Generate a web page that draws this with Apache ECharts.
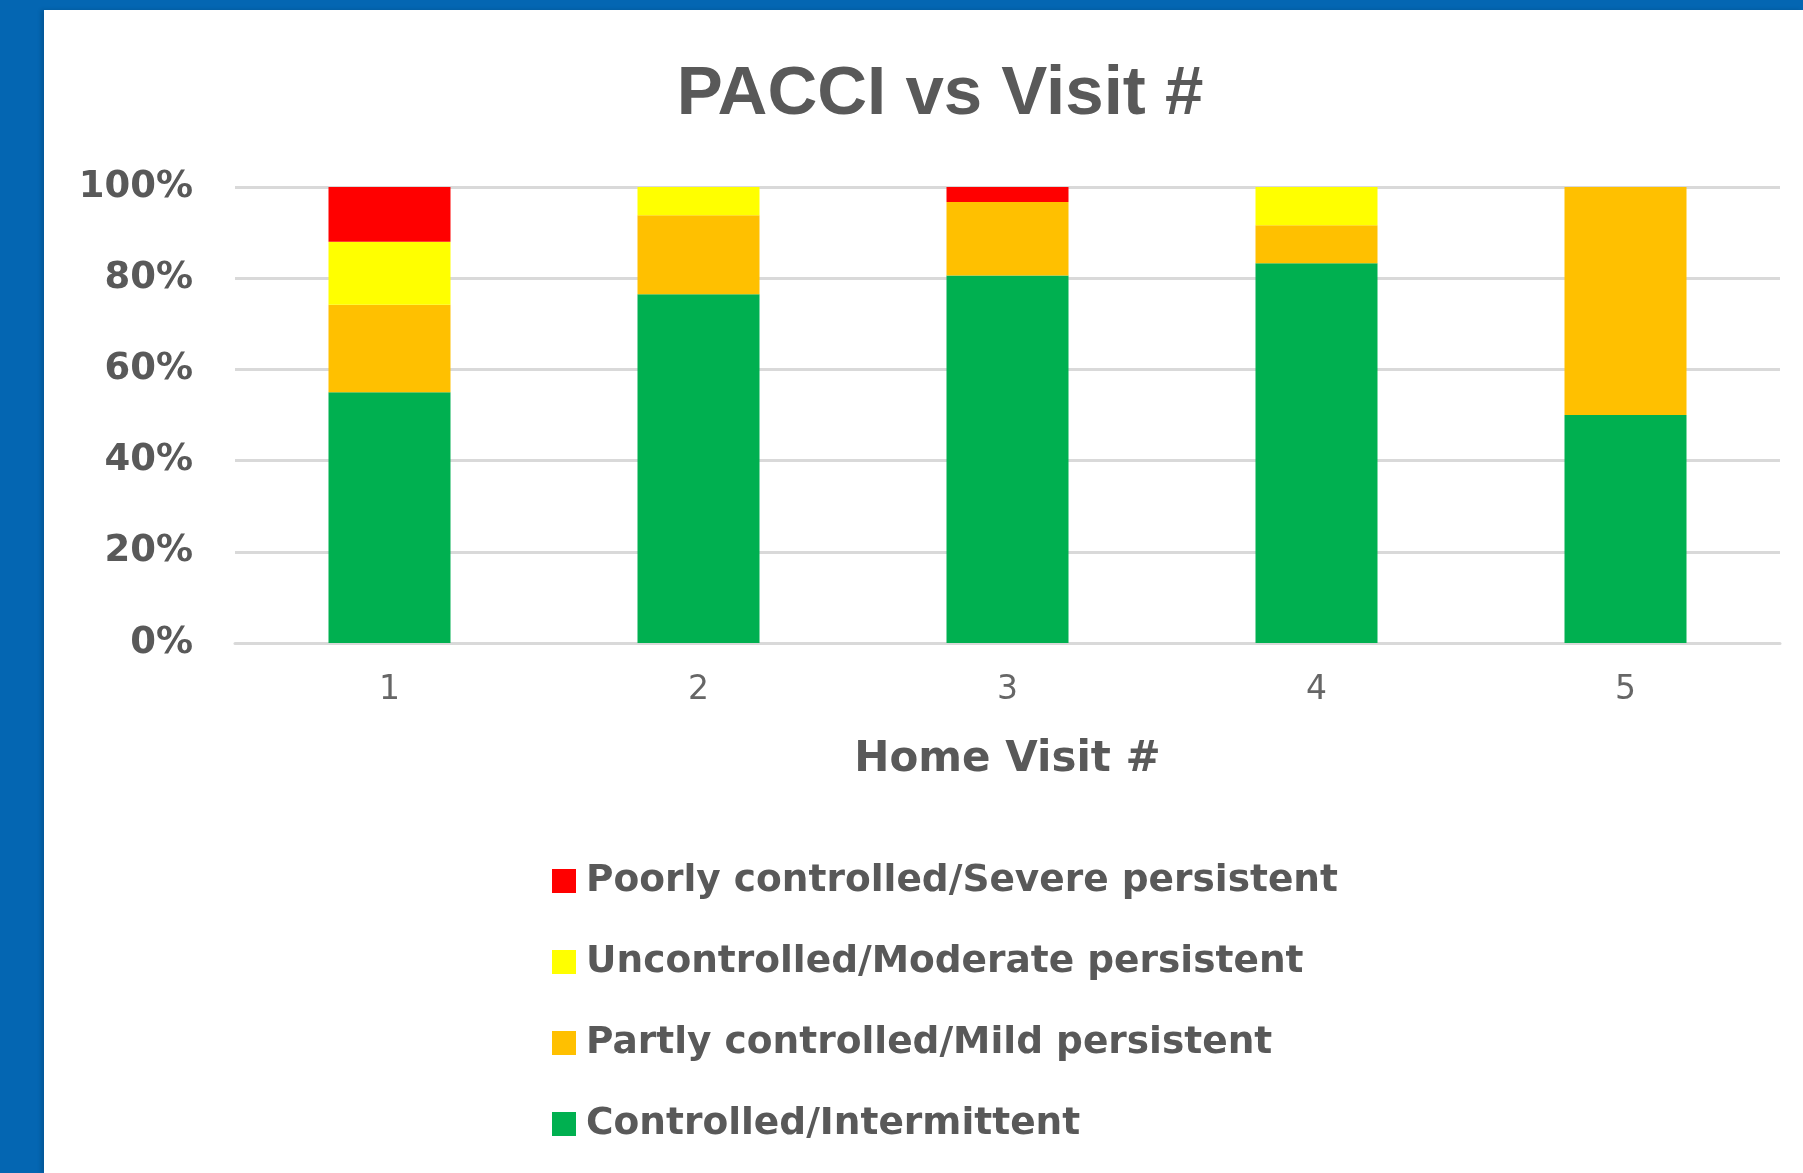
<!DOCTYPE html>
<html>
<head>
<meta charset="utf-8">
<style>
    html, body { margin: 0; padding: 0; }
    body { width: 1803px; height: 1173px; background: #0466b2; position: relative; overflow: hidden; }
    #pacci_con { position: absolute; left: 44px; top: 10px; width: 1759px; height: 1163px; background: #fff;
        box-shadow: -3px 0 4px rgba(0,0,0,0.15); }
</style>
<script src="https://cdn.jsdelivr.net/npm/echarts@6/dist/echarts.min.js"></script>
</head>
<body>
<div id="pacci_con"></div>
<script>
// visits on the x axis
const visits = ['1', '2', '3', '4', '5'];
// share of patients in each PACCI class, percent
const controlled = [55, 76.5, 80.6, 83.3, 50];
const partly = [19.2, 17.3, 16.1, 8.3, 50];
const uncontrolled = [13.8, 6.2, 0, 8.4, 0];
const poorly = [12, 0, 3.3, 0, 0];

const names = [
    'Controlled/Intermittent',
    'Partly controlled/Mild persistent',
    'Uncontrolled/Moderate persistent',
    'Poorly controlled/Severe persistent'
];
const colors = ['#00b050', '#ffc000', '#ffff00', '#ff0000'];
const values = [controlled, partly, uncontrolled, poorly];

const textColor = '#595959';
const boldFont = 'DejaVu Sans';

let series = [];
for (let i = 0; i < names.length; i++) {
    series.push({
        name: names[i],
        type: 'bar',
        stack: 'all',
        barWidth: 122,
        itemStyle: { color: colors[i] },
        data: values[i]
    });
}

const chart = echarts.init(document.getElementById('pacci_con'));
const option = {
    backgroundColor: '#fff',
    animation: false,
    title: {
        text: 'PACCI vs Visit #',
        left: 891,
        top: 45,
        textAlign: 'center',
        textStyle: {
            fontFamily: 'Liberation Sans',
            fontWeight: 'bold',
            fontSize: 69,
            color: textColor
        }
    },
    legend: {
        orient: 'vertical',
        left: 503,
        top: 847,
        itemWidth: 24,
        itemHeight: 24,
        itemGap: 43,
        icon: 'rect',
        data: names.slice().reverse(),
        textStyle: {
            fontFamily: boldFont,
            fontWeight: 'bold',
            fontSize: 37.5,
            color: textColor,
            padding: [0, 0, 0, 5]
        }
    },
    grid: {
        left: 191,
        right: 23,
        top: 177,
        bottom: 530
    },
    xAxis: {
        type: 'category',
        data: visits,
        name: 'Home Visit #',
        nameLocation: 'middle',
        nameGap: 96,
        nameTextStyle: {
            fontFamily: boldFont,
            fontWeight: 'bold',
            fontSize: 42,
            color: textColor
        },
        axisLine: { lineStyle: { color: '#d9d9d9', width: 3 } },
        axisTick: { show: false },
        axisLabel: {
            margin: 31,
            fontFamily: 'DejaVu Sans',
            fontSize: 33,
            color: '#666666'
        }
    },
    yAxis: {
        type: 'value',
        min: 0,
        max: 100,
        interval: 20,
        axisLine: { show: false },
        axisTick: { show: false },
        splitLine: { lineStyle: { color: '#d9d9d9', width: 3 } },
        axisLabel: {
            margin: 42,
            formatter: '{value}%',
            fontFamily: boldFont,
            fontWeight: 'bold',
            fontSize: 37,
            color: textColor
        }
    },
    series: series
};
chart.setOption(option);
window.addEventListener('resize', function() {
    chart.resize();
});
</script>
</body>
</html>
